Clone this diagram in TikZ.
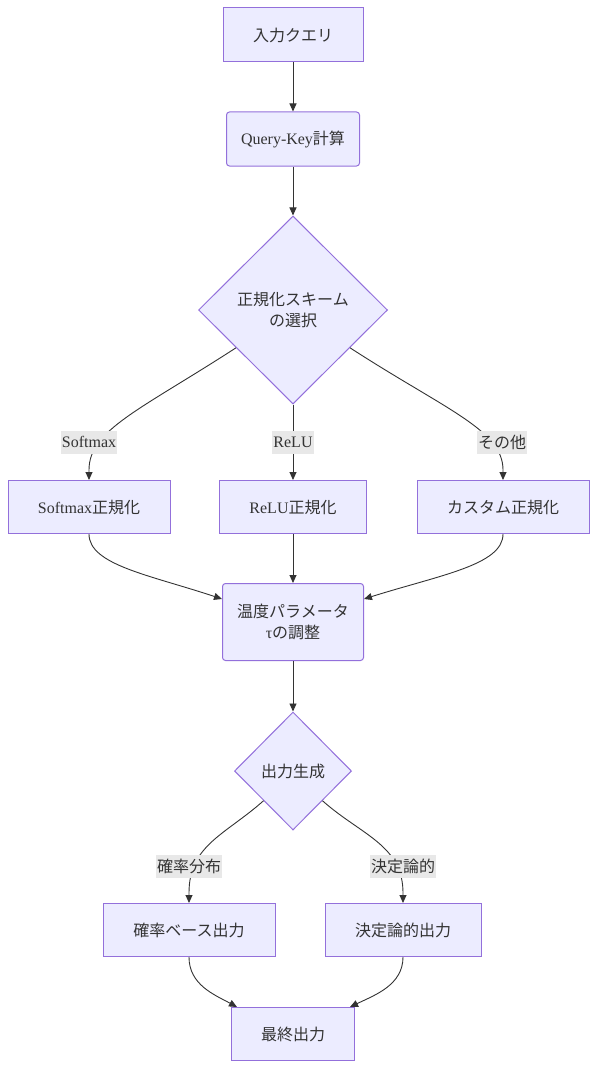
\documentclass[tikz,border=0pt]{standalone}
\usepackage{fontspec}
\setmainfont{Liberation Serif}
\newfontfamily\cjk{Noto Sans CJK JP}
\usetikzlibrary{shapes.geometric,arrows.meta,calc}
\definecolor{nodefill}{HTML}{ECECFF}
\definecolor{nodeborder}{HTML}{9370DB}
\definecolor{edgecol}{HTML}{333333}
\definecolor{labelbg}{HTML}{E8E8E8}
\begin{document}
\begin{tikzpicture}[x=1pt,y=-1pt,
  every node/.style={font=\fontsize{16}{21}\selectfont, text=edgecol},
  box/.style={draw=nodeborder, fill=nodefill, line width=1pt, inner sep=0pt, align=center},
  rbox/.style={box, rounded corners=3pt},
  dia/.style={diamond, aspect=1, draw=nodeborder, fill=nodefill, line width=1pt, inner sep=0pt, align=center},
  elabel/.style={fill=labelbg, inner sep=1pt, minimum height=23pt},
  link/.style={draw=edgecol, line width=0.9pt, -{Triangle[length=8pt,width=7pt]}}
]
\useasboundingbox (0,0) rectangle (597,1070);
\node[box, minimum width=140pt, minimum height=54pt] (a) at (293,35) {\cjk 入力クエリ};
\node[rbox, minimum width=133pt, minimum height=54pt] (b) at (293,139) {Query-Key{\cjk 計算}};
\node[dia, minimum width=189pt, minimum height=188pt] (c) at (293,310) {\cjk 正規化スキーム\\\cjk の選択};
\node[box, minimum width=162pt, minimum height=53pt] (s) at (89,507) {Softmax{\cjk 正規化}};
\node[box, minimum width=147pt, minimum height=53pt] (r) at (293,507) {ReLU{\cjk 正規化}};
\node[box, minimum width=172pt, minimum height=53pt] (k) at (503,507) {\cjk カスタム正規化};
\node[rbox, minimum width=141pt, minimum height=77pt] (t) at (293,622) {\cjk 温度パラメータ\\τ{\cjk の調整}};
\node[dia, minimum width=117pt, minimum height=118pt] (o) at (293,771) {\cjk 出力生成};
\node[box, minimum width=172pt, minimum height=53pt] (p) at (189,930) {\cjk 確率ベース出力};
\node[box, minimum width=156pt, minimum height=53pt] (q) at (403,930) {\cjk 決定論的出力};
\node[box, minimum width=123pt, minimum height=53pt] (f) at (293,1034) {\cjk 最終出力};

\coordinate (cl) at ($(c.west)!0.4!(c.south)$);
\coordinate (cr) at ($(c.east)!0.4!(c.south)$);
\coordinate (tl) at ($(t.north west)+(0,16)$);
\coordinate (tr) at ($(t.north east)+(0,16)$);
\coordinate (fl) at ($(f.north west)+(6,0)$);
\coordinate (fr) at ($(f.north east)+(-5,0)$);

\draw[link] (a) -- (b);
\draw[link] (b) -- (c);
\draw[link] (cl) .. controls (140,410) and (89,430) .. ($(s.north)+(0,-10)$) -- (s.north);
\draw[link] (c) -- (r);
\draw[link] (cr) .. controls (446,410) and (503,430) .. ($(k.north)+(0,-10)$) -- (k.north);
\draw[link] (s.south) .. controls (89,565) and (150,575) .. (tl);
\draw[link] (r) -- (t);
\draw[link] (k.south) .. controls (503,565) and (440,575) .. (tr);
\draw[link] (t) -- (o);
\draw[link] (o.south west) .. controls (225,835) and (189,845) .. ($(p.north)+(0,-10)$) -- (p.north);
\draw[link] (o.south east) .. controls (361,835) and (403,845) .. ($(q.north)+(0,-10)$) -- (q.north);
\draw[link] (p.south) .. controls (189,985) and (215,995) .. (fl);
\draw[link] (q.south) .. controls (403,985) and (375,995) .. (fr);

\node[elabel] (l1) at (89,442) {Softmax};
\node[elabel] (l2) at (293,442) {ReLU};
\node[elabel] (l3) at (502,442) {\cjk その他};
\node[elabel] (l4) at (189,866) {\cjk 確率分布};
\node[elabel] (l5) at (403,866) {\cjk 決定論的};
\end{tikzpicture}
\end{document}
